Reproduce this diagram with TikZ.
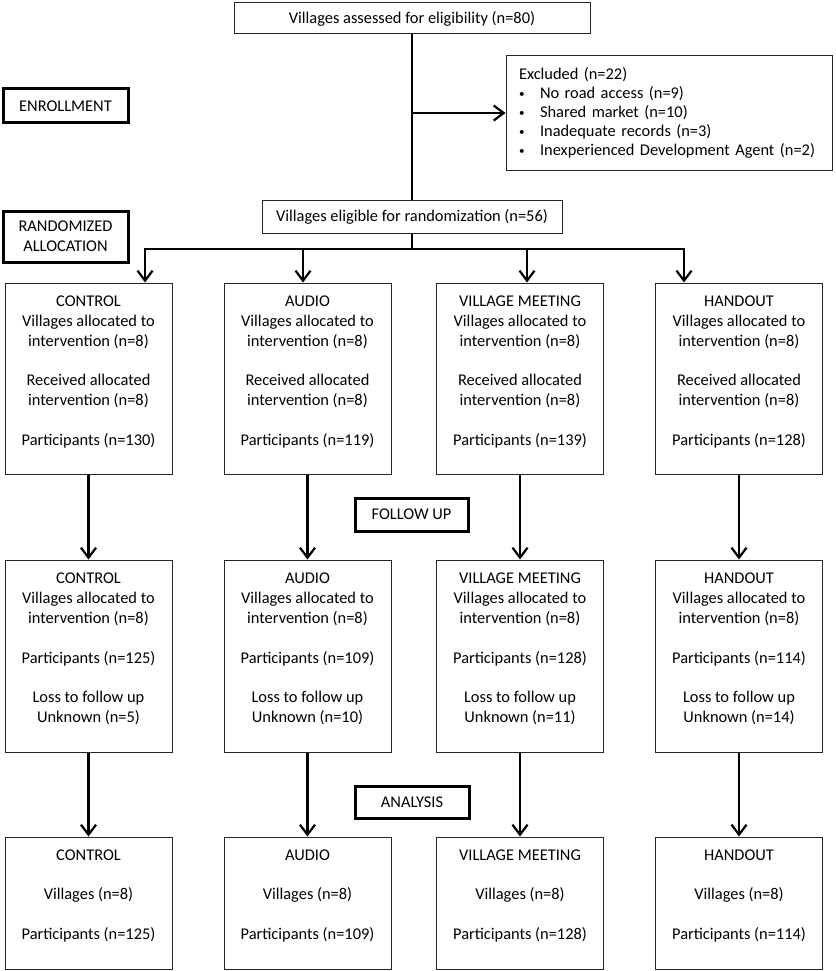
\documentclass[tikz,border=0pt]{standalone}
\usepackage{fontspec}
\setmainfont{Carlito}
\usetikzlibrary{arrows.meta}
\newcommand\myfs{\fontsize{16.4}{20}\selectfont}
\newcommand\myfsx{\fontsize{16.4}{19}\selectfont}
\newcommand\bul{\makebox[21pt][l]{\raisebox{1.5pt}{\fontsize{11}{11}\selectfont\textbullet}}}
\begin{document}
\begin{tikzpicture}[x=1pt,y=-1pt,
  box/.style={draw=black!85, line width=1pt, inner sep=0pt, font=\myfs, align=center},
  lab/.style={draw=black, line width=3pt, inner sep=0pt, font=\myfs, align=center},
  txt/.style={inner sep=0pt, font=\myfs, align=center, anchor=north},
  conn/.style={line width=2.2pt},
  arr/.style={line width=2.2pt, -{Straight Barb[length=10pt,width=15pt]}},
]
\useasboundingbox[fill=white] (0,0) rectangle (835,971);

% top part
\node[box, minimum width=356, minimum height=31] (top) at (412,18.5) {Villages assessed for eligibility (n=80)};
\node[box, minimum width=326, minimum height=114, text width=300, align=left, font=\myfsx] (excl) at (669,113)
  {Excluded (n=22)\\\bul No road access (n=9)\\\bul Shared market (n=10)\\\bul Inadequate records (n=3)\\\bul Inexperienced Development Agent (n=2)};
\node[box, minimum width=300, minimum height=33] (elig) at (412,216.5) {Villages eligible for randomization (n=56)};

% stage labels
\node[lab, minimum width=125, minimum height=34] (enroll) at (65.5,106) {ENROLLMENT};
\node[lab, minimum width=125, minimum height=51] (rand) at (65.5,236.5) {RANDOMIZED\\ALLOCATION};
\node[lab, minimum width=113, minimum height=33] (follow) at (411.5,514.5) {FOLLOW UP};
\node[lab, minimum width=114, minimum height=32] (analysis) at (412,802) {ANALYSIS};

% row 1 boxes
\node[box, minimum width=167, minimum height=191] (c1) at (88.5,378.5) {};
\node[box, minimum width=167, minimum height=191] (a1) at (307.5,378.5) {};
\node[box, minimum width=167, minimum height=191] (v1) at (520,378.5) {};
\node[box, minimum width=167, minimum height=191] (h1) at (739,378.5) {};
\node[txt] (c1t) at ([yshift=-13pt]c1.north) {CONTROL\\Villages allocated to\\intervention (n=8)\\[19pt]Received allocated\\intervention (n=8)\\[20pt]Participants (n=130)};
\node[txt] (a1t) at ([yshift=-13pt]a1.north) {AUDIO\\Villages allocated to\\intervention (n=8)\\[19pt]Received allocated\\intervention (n=8)\\[20pt]Participants (n=119)};
\node[txt] (v1t) at ([yshift=-13pt]v1.north) {VILLAGE MEETING\\Villages allocated to\\intervention (n=8)\\[19pt]Received allocated\\intervention (n=8)\\[20pt]Participants (n=139)};
\node[txt] (h1t) at ([yshift=-13pt]h1.north) {HANDOUT\\Villages allocated to\\intervention (n=8)\\[19pt]Received allocated\\intervention (n=8)\\[20pt]Participants (n=128)};

% row 2 boxes
\node[box, minimum width=167, minimum height=192] (c2) at (88.5,656) {};
\node[box, minimum width=167, minimum height=192] (a2) at (307.5,656) {};
\node[box, minimum width=167, minimum height=192] (v2) at (520,656) {};
\node[box, minimum width=167, minimum height=192] (h2) at (739,656) {};
\node[txt] (c2t) at ([yshift=-13pt]c2.north) {CONTROL\\Villages allocated to\\intervention (n=8)\\[20pt]Participants (n=125)\\[19pt]Loss to follow up\\Unknown (n=5)};
\node[txt] (a2t) at ([yshift=-13pt]a2.north) {AUDIO\\Villages allocated to\\intervention (n=8)\\[20pt]Participants (n=109)\\[19pt]Loss to follow up\\Unknown (n=10)};
\node[txt] (v2t) at ([yshift=-13pt]v2.north) {VILLAGE MEETING\\Villages allocated to\\intervention (n=8)\\[20pt]Participants (n=128)\\[19pt]Loss to follow up\\Unknown (n=11)};
\node[txt] (h2t) at ([yshift=-13pt]h2.north) {HANDOUT\\Villages allocated to\\intervention (n=8)\\[20pt]Participants (n=114)\\[19pt]Loss to follow up\\Unknown (n=14)};

% row 3 boxes
\node[box, minimum width=167, minimum height=132] (c3) at (88.5,903) {};
\node[box, minimum width=167, minimum height=132] (a3) at (307.5,903) {};
\node[box, minimum width=167, minimum height=132] (v3) at (520,903) {};
\node[box, minimum width=167, minimum height=132] (h3) at (739,903) {};
\node[txt] (c3t) at ([yshift=-13pt]c3.north) {CONTROL\\[19pt]Villages (n=8)\\[20pt]Participants (n=125)};
\node[txt] (a3t) at ([yshift=-13pt]a3.north) {AUDIO\\[19pt]Villages (n=8)\\[20pt]Participants (n=109)};
\node[txt] (v3t) at ([yshift=-13pt]v3.north) {VILLAGE MEETING\\[19pt]Villages (n=8)\\[20pt]Participants (n=128)};
\node[txt] (h3t) at ([yshift=-13pt]h3.north) {HANDOUT\\[19pt]Villages (n=8)\\[20pt]Participants (n=114)};

% connectors
\coordinate (split) at (412,249);
\draw[conn] (top) -- (elig);
\draw[arr] (top.south |- excl.west) -- (excl.west);
\draw[conn] (elig) -- (split);
\draw[arr] (split) -| ([xshift=56.5pt]c1.north);
\draw[arr] (split) -| ([xshift=-4.5pt]a1.north);
\draw[arr] (split) -| ([xshift=7pt]v1.north);
\draw[arr] (split) -| ([xshift=-55pt]h1.north);

\draw[arr] (c1) -- (c2);
\draw[arr] (a1) -- (a2);
\draw[arr] (v1) -- (v2);
\draw[arr] (h1) -- (h2);
\draw[arr] (c2) -- (c3);
\draw[arr] (a2) -- (a3);
\draw[arr] (v2) -- (v3);
\draw[arr] (h2) -- (h3);
\end{tikzpicture}
\end{document}
